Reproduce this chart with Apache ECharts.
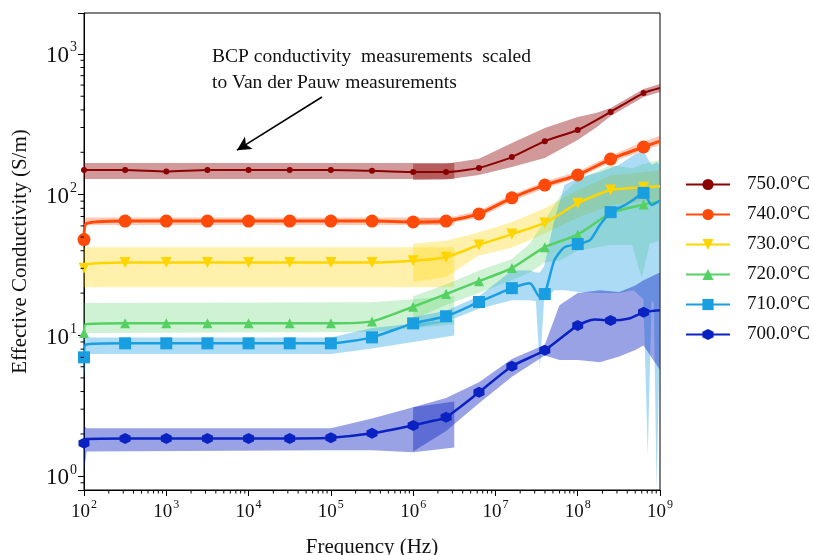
<!DOCTYPE html>
<html><head><meta charset="utf-8">
<script src="https://cdn.jsdelivr.net/npm/echarts@6/dist/echarts.min.js"></script>
<style>html,body{margin:0;padding:0;background:#fff}#c{width:813px;height:555px}</style>
</head><body><div id="c"></div>
<script>
// ---------- data ----------
const seriesNames = ['750.0°C','740.0°C','730.0°C','720.0°C','710.0°C','700.0°C'];
const freqLow  = [100, 316, 1000, 3162, 10000, 31623, 100000, 316228];
const freqHigh = [1e6, 2.512e6, 6.31e6, 1.585e7, 3.981e7, 1e8, 2.512e8, 6.31e8, 1e9];

const low750  = [150, 150, 146, 150, 150, 150, 150, 148];
const high750 = [145, 145, 155, 185, 240, 288, 387, 527, 572];
const extra750 = [];

const low740  = [48, 65, 65, 65, 65, 65, 65, 65];
const high740 = [64, 65, 73, 95, 117, 138, 179, 218, 240];
const extra740 = [[105, 62]];

const low730  = [30, 33, 33, 33, 33, 33, 33, 33];
const high730 = [34, 36, 44, 52.5, 63, 87, 108, 113, 115];
const extra730 = [[105, 32]];

const low720  = [10.4, 12.2, 12.2, 12.2, 12.2, 12.2, 12.2, 12.6];
const high720 = [16, 19.7, 24.3, 30.1, 42.4, 52, 74, 85, 90];
const extra720 = [[105, 12]];

const low710  = [7.0, 8.8, 8.8, 8.8, 8.8, 8.8, 8.8, 9.7];
const high710 = [12.2, 13.7, 17.3, 21.7, 19.7, 44.6, 75.2, 103, 91];
const extra710 = [[105, 8.6], [2.63e7, 23.5], [3.47e7, 18.7], [5.2e7, 34.3], [6.9e7, 42.4], [1.41e8, 47.6], [1.86e8, 60.8], [3.7e8, 84], [4.6e8, 91], [7.9e8, 84.4]];

const low700  = [1.72, 1.86, 1.86, 1.86, 1.86, 1.86, 1.88, 2.02];
const high700 = [2.30, 2.63, 3.95, 6.05, 7.86, 11.8, 12.8, 14.6, 15.1];
const extra700 = [[105, 1.84], [1.6e6, 2.45], [1.6e8, 13.0], [4.2e8, 13.2]];

// uncertainty bands: [frequency, lower, upper]
const band750Low  = [[100,129,168],[3.162e6,129,168]];
const band750High = [[1e6,127,166],[2.512e6,128,166],[6.31e6,138,180],[1.585e7,157,233],[3.981e7,182,297],[1e8,244,356],[1.71e8,303,381],[2.512e8,362,413],[6.31e8,494,563],[1e9,536,611]];
const band740Low  = [[100,46,67],[108,61,69],[3.162e6,61,69]];
const band740High = [[1e6,61,68],[2.512e6,62,68],[6.31e6,69,77],[1.585e7,90,100],[3.981e7,111,124],[1e8,131,146],[2.512e8,170,190],[6.31e8,205,238],[1e9,225,262]];
const band730Low  = [[100,22,42.4],[3.162e6,22,42.4]];
const band730High = [[1e6,24,45],[2.512e6,26,47],[6.31e6,37,54],[1.585e7,42,64],[3.981e7,53,80],[1e8,69,108],[2.512e8,84,137],[6.31e8,90,145],[1e9,92,150]];
const band720Low  = [[100,10.4,17],[3.162e5,10.6,17.2],[3.162e6,12,19]];
const band720High = [[1e6,13,19],[2.512e6,16.5,23],[6.31e6,20,29],[1.585e7,24.8,35],[2.63e7,28,45],[3.981e7,33,66],[6e7,34,96],[1e8,40,127],[2.512e8,44,162],[4.6e8,44,154],[5.5e8,30,160],[6.0e8,26,165],[6.6e8,32,165],[7.5e8,45,170],[1e9,47,176]];
const band710Low  = [[100,4.8,9.7],[106,7.4,9.7],[1e5,7.4,9.7],[3.162e5,8.1,11.3],[3.162e6,10,13]];
const band710High = [[1e6,11.3,13.5],[2.512e6,12.5,15],[6.31e6,15.5,19],[1.585e7,17.8,29],[2.63e7,17.8,29],[3.1e7,17.5,28],[3.47e7,5.85,28],[3.9e7,17.8,31],[5.2e7,21,66],[6.9e7,21,117],[1e8,20.4,131],[1.86e8,20,145],[3.2e8,20,163],[4.8e8,21,191],[6.3e8,18,207],[7.1e8,1.4,180],[7.9e8,17.8,163],[8.4e8,17,165],[9.1e8,0.8,170],[1e9,10.9,163]];
const band700Low  = [[100,1.1,2.3],[108,1.5,2.2],[1e5,1.53,2.2],[3.162e5,1.53,2.58],[1e6,1.48,3.1],[3.162e6,1.6,3.4]];
const band700High = [[1e6,1.5,3.1],[2.512e6,2.1,3.6],[6.31e6,3.3,4.65],[1.585e7,5.1,6.8],[3.981e7,7.2,8.6],[6e7,6.7,16.4],[1e8,6.7,20],[1.86e8,6.45,21],[3.2e8,7.1,20.4],[5e8,7.9,22.7],[6.31e8,8.5,24.7],[1e9,5.7,28]];

// ---------- styles ----------
const FONT = 'Liberation Serif';
const X_MIN = 100, X_MAX = 1e9, Y_MIN = 0.8, Y_MAX = 1950;
const hexPath = 'path://M0,-10L8.66,-5L8.66,5L0,10L-8.66,5L-8.66,-5Z';
const styles = [
  {color:'#8b0000', band:'rgba(139,0,0,0.40)',    symbol:'circle',   size:6,  width:2},
  {color:'#ff4a0a', band:'rgba(255,74,10,0.30)',  symbol:'circle',   size:13, width:3},
  {color:'#ffd500', band:'rgba(255,213,0,0.33)',  symbol:'triangle', size:11, width:2.5, rotate:180},
  {color:'#55d163', band:'rgba(85,209,99,0.28)',  symbol:'triangle', size:10, width:2.5},
  {color:'#1a9ee2', band:'rgba(26,158,226,0.36)', symbol:'rect',     size:12, width:2.5},
  {color:'#0b22c2', band:'rgba(11,34,194,0.42)',  symbol:hexPath,    size:11, width:2.5}
];
const lows = [low750, low740, low730, low720, low710, low700];
const highs = [high750, high740, high730, high720, high710, high700];
const extras = [extra750, extra740, extra730, extra720, extra710, extra700];
const bands = [[band750Low, band750High],[band740Low, band740High],[band730Low, band730High],
               [band720Low, band720High],[band710Low, band710High],[band700Low, band700High]];

function lineData(low, high, extra) {
  const pts = [];
  freqLow.forEach((f, i) => pts.push({value: [f, low[i]]}));
  freqHigh.forEach((f, i) => {
    const d = {value: [f, high[i]]};
    if (i === freqHigh.length - 1) d.symbol = 'none';
    pts.push(d);
  });
  extra.forEach(p => pts.push({value: p, symbol: 'none'}));
  pts.sort((a, b) => a.value[0] - b.value[0]);
  return pts;
}

function bandSeries(band, fill) {
  return {
    type: 'custom', coordinateSystem: 'cartesian2d', silent: true, clip: true, z: 1,
    data: band, encode: {x: 0, y: [1, 2]},
    renderItem: function (params, api) {
      if (params.dataIndex !== 0) return null;
      const up = band.map(d => api.coord([d[0], d[2]]));
      const lo = band.map(d => api.coord([d[0], d[1]])).reverse();
      return {type: 'polygon', shape: {points: up.concat(lo)}, style: {fill: fill}};
    }
  };
}

const series = [];
bands.forEach((b, i) => {
  series.push(bandSeries(b[0], styles[i].band));
  series.push(bandSeries(b[1], styles[i].band));
});
seriesNames.forEach((name, i) => {
  const s = styles[i];
  const ser = {
    name: name, type: 'line', z: 3,
    data: lineData(lows[i], highs[i], extras[i]),
    symbol: s.symbol, symbolSize: s.size, symbolRotate: s.rotate || 0,
    showAllSymbol: true, smooth: 0.2,
    lineStyle: {color: s.color, width: s.width},
    itemStyle: {color: s.color, borderWidth: 0},
    emphasis: {disabled: true}
  };
  if (i === 0) {
    ser.markLine = {
      silent: true, symbol: ['none', 'arrow'], symbolSize: [11, 14],
      label: {show: false},
      lineStyle: {color: '#000', width: 1.6, type: 'solid'},
      data: [[{coord: [7.8e4, 494]}, {coord: [7.23e3, 207]}]]
    };
  }
  series.push(ser);
});

// minor ticks (2..9 x 10^n) drawn through the axes
const minorX = [], minorY = [];
for (let e = 2; e < 9; e++) for (let k = 2; k <= 9; k++) minorX.push([k * Math.pow(10, e), Y_MIN]);
minorY.push([X_MIN, 0.9]);
for (let e = 0; e < 4; e++) for (let k = 2; k <= 9; k++) { const v = k * Math.pow(10, e); if (v < Y_MAX) minorY.push([X_MIN, v]); }
series.push({
  type: 'custom', silent: true, clip: false, z: 5, data: minorX, encode: {x: 0, y: 1},
  renderItem: (p, api) => { const c = api.coord([api.value(0), Y_MIN]);
    return {type: 'line', shape: {x1: c[0], y1: c[1], x2: c[0], y2: c[1] + 3.5}, style: {stroke: '#000', lineWidth: 1}}; }
});
series.push({
  type: 'custom', silent: true, clip: false, z: 5, data: minorY, encode: {x: 0, y: 1},
  renderItem: (p, api) => { const c = api.coord([X_MIN, api.value(1)]);
    return {type: 'line', shape: {x1: c[0], y1: c[1], x2: c[0] - 3.5, y2: c[1]}, style: {stroke: '#000', lineWidth: 1}}; }
});

function powLabel(v) {
  const l = Math.log10(v), e = Math.round(l);
  if (Math.abs(l - e) > 1e-6) return '';
  return '{b|10}{s|' + e + '}';
}
function rich(big, small) {
  return {
    b: {fontSize: big, fontFamily: FONT, color: '#111', lineHeight: big + 4, verticalAlign: 'bottom'},
    s: {fontSize: small, fontFamily: FONT, color: '#111', lineHeight: big + 4, verticalAlign: 'top', padding: [0, 0, 0, 1]}
  };
}

const option = {
  animation: false,
  backgroundColor: '#fff',
  grid: {left: 84, right: 153, top: 13, bottom: 65, outerBoundsMode: 'none', containLabel: false,
         show: true, borderColor: '#000', borderWidth: 1, backgroundColor: 'transparent'},
  legend: {
    data: seriesNames, orient: 'vertical', left: 685, top: 175, padding: 0,
    itemWidth: 44, itemHeight: 14, itemGap: 11,
    textStyle: {fontFamily: FONT, fontSize: 19, color: '#111', lineHeight: 18, padding: [0, 0, 0, 12]},
    selectedMode: false
  },
  xAxis: {
    type: 'log', logBase: 10, min: X_MIN, max: X_MAX,
    name: 'Frequency (Hz)', nameLocation: 'middle', nameGap: 47,
    nameTextStyle: {fontFamily: FONT, fontSize: 21, color: '#111'},
    axisLine: {lineStyle: {color: '#000', width: 1}},
    axisTick: {inside: false, length: 6, lineStyle: {color: '#000'}},
    axisLabel: {formatter: powLabel, rich: rich(19, 12), margin: 9},
    splitLine: {show: false}, minorTick: {show: false}
  },
  yAxis: {
    type: 'log', logBase: 10, min: Y_MIN, max: Y_MAX,
    name: 'Effective Conductivity (S/m)', nameLocation: 'middle', nameGap: 53,
    nameTextStyle: {fontFamily: FONT, fontSize: 21, color: '#111'},
    axisLine: {lineStyle: {color: '#000', width: 1}},
    axisTick: {inside: false, length: 6, lineStyle: {color: '#000'}},
    axisLabel: {formatter: powLabel, rich: rich(23, 14), margin: 7},
    splitLine: {show: false}, minorTick: {show: false}
  },
  graphic: [
    {type: 'text', left: 212, top: 44, silent: true,
     style: {text: 'BCP conductivity  measurements  scaled\nto Van der Pauw measurements', font: '19.5px "Liberation Serif"', fill: '#111', lineHeight: 26}}
  ],
  series: series
};
const chart = echarts.init(document.getElementById('c'), null, {renderer: 'canvas'});
chart.setOption(option);
</script></body></html>
